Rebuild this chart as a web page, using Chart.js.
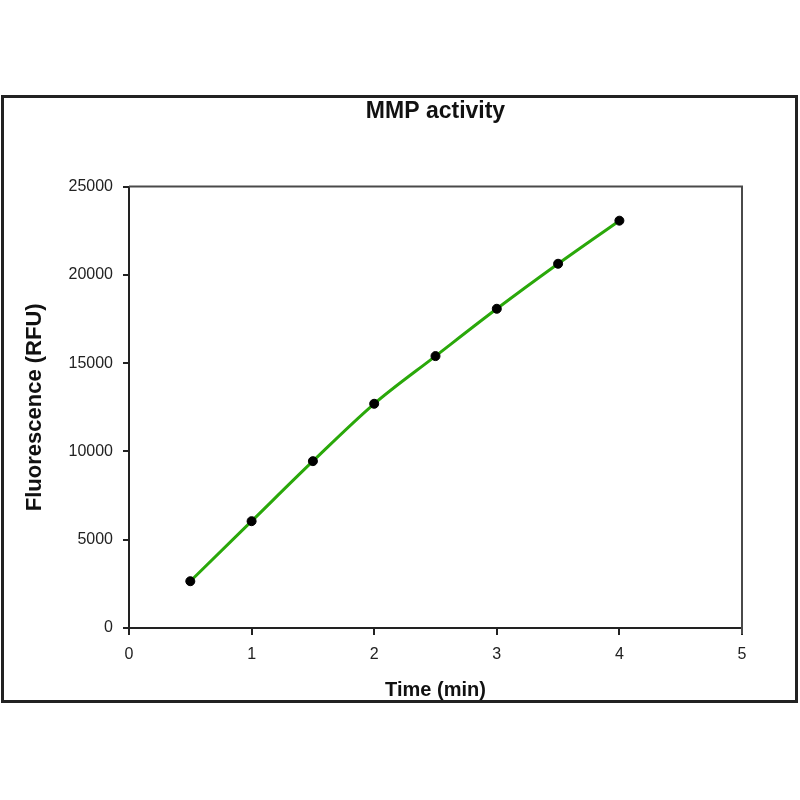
<!DOCTYPE html>
<html>
<head>
<meta charset="utf-8">
<script src="https://cdn.jsdelivr.net/npm/chart.js@4"></script>
<style>
  html, body { margin: 0; padding: 0; background: #fff; }
  #wrap { width: 800px; height: 800px; position: relative; }
</style>
</head>
<body>
<div id="wrap"><canvas id="c" width="800" height="800"></canvas></div>
<script>
const timeMin = [0.5, 1, 1.5, 2, 2.5, 3, 3.5, 4];
const fluorescence = [2650, 6050, 9450, 12700, 15400, 18080, 20630, 23070];
const xTicks = [0, 1, 2, 3, 4, 5];
const yTicks = [0, 5000, 10000, 15000, 20000, 25000];
const chartTitle = 'MMP activity';
const xTitle = 'Time (min)';
const yTitle = 'Fluorescence (RFU)';

const pts = timeMin.map((t, i) => ({ x: t, y: fluorescence[i] }));

const framePlugin = {
  id: 'frame',
  beforeDraw(chart) {
    const ctx = chart.ctx;
    ctx.save();
    ctx.fillStyle = '#fff';
    ctx.fillRect(0, 0, chart.width, chart.height);
    ctx.strokeStyle = '#222';
    ctx.lineWidth = 3;
    ctx.strokeRect(2.5, 96.5, 794, 605);
    ctx.restore();
  },
  beforeDatasetsDraw(chart) {
    const a = chart.chartArea;
    const ctx = chart.ctx;
    ctx.save();
    ctx.strokeStyle = '#4a4a4a';
    ctx.lineWidth = 2;
    ctx.beginPath();
    ctx.moveTo(a.left, a.top);
    ctx.lineTo(a.right, a.top);
    ctx.lineTo(a.right, a.bottom + 6);
    ctx.stroke();
    ctx.restore();
  }
};

new Chart(document.getElementById('c'), {
  type: 'scatter',
  data: {
    datasets: [
      {
        data: pts,
        showLine: false,
        pointRadius: 4.5,
        pointBackgroundColor: '#000',
        pointBorderColor: '#000',
        order: 0
      },
      {
        data: pts,
        showLine: true,
        borderColor: '#2aa80a',
        borderWidth: 3,
        pointRadius: 0,
        cubicInterpolationMode: 'monotone',
        order: 1
      }
    ]
  },
  options: {
    responsive: false,
    animation: false,
    devicePixelRatio: 1,
    layout: { padding: { left: 0, right: 58, top: 0, bottom: 0 } },
    plugins: {
      legend: { display: false },
      tooltip: { enabled: false },
      title: {
        display: true,
        text: chartTitle,
        fullSize: false,
        color: '#111',
        font: { family: 'Liberation Sans, Arial, sans-serif', size: 23, weight: 'bold' },
        padding: { top: 98, bottom: 61 }
      }
    },
    scales: {
      x: {
        type: 'linear',
        min: 0, max: 5,
        afterBuildTicks(s) { s.ticks = xTicks.map(v => ({ value: v })); },
        afterFit(s) { s.height = 172; },
        grid: { drawOnChartArea: false, drawTicks: true, tickLength: 7, color: '#222', lineWidth: 2 },
        border: { display: true, color: '#222', width: 2 },
        ticks: {
          padding: 10,
          color: '#222',
          font: { family: 'Liberation Sans, Arial, sans-serif', size: 16 },
          maxRotation: 0
        },
        title: {
          display: true,
          text: xTitle,
          color: '#111',
          font: { family: 'Liberation Sans, Arial, sans-serif', size: 20, weight: 'bold' },
          padding: { top: 0, bottom: 98 }
        }
      },
      y: {
        type: 'linear',
        min: 0, max: 25000,
        afterBuildTicks(s) { s.ticks = yTicks.map(v => ({ value: v })); },
        afterFit(s) { s.width = 129; },
        grid: { drawOnChartArea: false, drawTicks: true, tickLength: 6, color: '#222', lineWidth: 2 },
        border: { display: true, color: '#222', width: 2 },
        ticks: {
          padding: 10,
          color: '#222',
          font: { family: 'Liberation Sans, Arial, sans-serif', size: 16 },
          callback: v => String(v)
        },
        title: {
          display: true,
          text: yTitle,
          color: '#111',
          font: { family: 'Liberation Sans, Arial, sans-serif', size: 22, weight: 'bold' },
          padding: { top: 22, bottom: 0 }
        }
      }
    }
  },
  plugins: [framePlugin]
});
</script>
</body>
</html>
